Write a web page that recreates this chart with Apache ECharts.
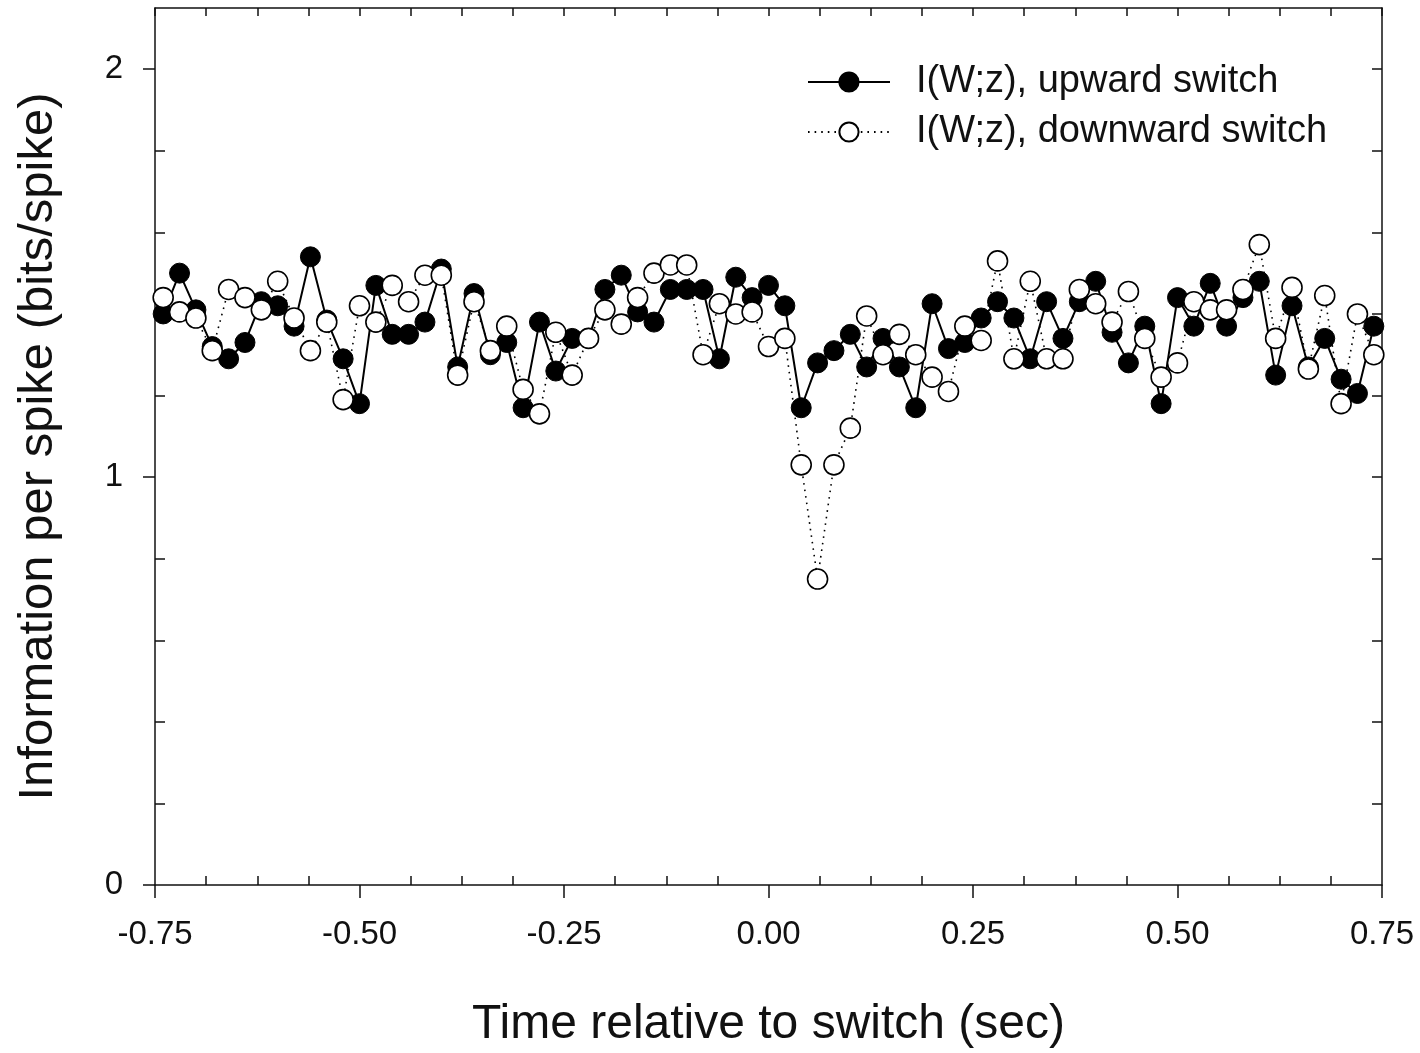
<!DOCTYPE html>
<html>
<head>
<meta charset="utf-8">
<script src="https://cdn.jsdelivr.net/npm/echarts@6/dist/echarts.min.js"></script>
<style>
  html, body { margin: 0; padding: 0; background: #fff; }
  #chart { width: 1420px; height: 1053px; }
</style>
</head>
<body>
<div id="chart"></div>
<script>
const times = [
  -0.74, -0.72, -0.70, -0.68, -0.66, -0.64, -0.62, -0.60, -0.58, -0.56,
  -0.54, -0.52, -0.50, -0.48, -0.46, -0.44, -0.42, -0.40, -0.38, -0.36,
  -0.34, -0.32, -0.30, -0.28, -0.26, -0.24, -0.22, -0.20, -0.18, -0.16,
  -0.14, -0.12, -0.10, -0.08, -0.06, -0.04, -0.02, 0.00, 0.02, 0.04,
  0.06, 0.08, 0.10, 0.12, 0.14, 0.16, 0.18, 0.20, 0.22, 0.24,
  0.26, 0.28, 0.30, 0.32, 0.34, 0.36, 0.38, 0.40, 0.42, 0.44,
  0.46, 0.48, 0.50, 0.52, 0.54, 0.56, 0.58, 0.60, 0.62, 0.64,
  0.66, 0.68, 0.70, 0.72, 0.74
];

const upward = [
  1.40, 1.50, 1.41, 1.32, 1.29, 1.33, 1.43, 1.42, 1.37, 1.54,
  1.385, 1.29, 1.18, 1.47, 1.35, 1.35, 1.38, 1.51, 1.27, 1.45,
  1.30, 1.33, 1.17, 1.38, 1.26, 1.34, 1.34, 1.46, 1.495, 1.405,
  1.38, 1.46, 1.46, 1.46, 1.29, 1.49, 1.44, 1.47, 1.42, 1.17,
  1.28, 1.31, 1.35, 1.27, 1.34, 1.27, 1.17, 1.425, 1.315, 1.33,
  1.39, 1.43, 1.39, 1.29, 1.43, 1.34, 1.43, 1.48, 1.355, 1.28,
  1.37, 1.18, 1.44, 1.37, 1.475, 1.37, 1.44, 1.48, 1.25, 1.42,
  1.27, 1.34, 1.24, 1.205, 1.37
];

const downward = [
  1.44, 1.405, 1.39, 1.31, 1.46, 1.44, 1.41, 1.48, 1.39, 1.31,
  1.38, 1.19, 1.42, 1.38, 1.47, 1.43, 1.495, 1.495, 1.25, 1.43,
  1.31, 1.37, 1.215, 1.155, 1.355, 1.25, 1.34, 1.41, 1.375, 1.44,
  1.50, 1.52, 1.52, 1.30, 1.425, 1.40, 1.405, 1.32, 1.34, 1.03,
  0.75, 1.03, 1.12, 1.395, 1.30, 1.35, 1.30, 1.245, 1.21, 1.37,
  1.335, 1.53, 1.29, 1.48, 1.29, 1.29, 1.46, 1.425, 1.38, 1.455,
  1.34, 1.245, 1.28, 1.43, 1.41, 1.41, 1.46, 1.57, 1.34, 1.465,
  1.265, 1.445, 1.18, 1.40, 1.30
];

const xMajorTicks = [-0.75, -0.5, -0.25, 0, 0.25, 0.5, 0.75];
const xMinorTicks = [
  -0.6875, -0.625, -0.5625, -0.4375, -0.375, -0.3125, -0.1875, -0.125, -0.0625,
  0.0625, 0.125, 0.1875, 0.3125, 0.375, 0.4375, 0.5625, 0.625, 0.6875
];
const xTopTicks = [
  -0.75, -0.6875, -0.625, -0.5625, -0.5, -0.4375, -0.375, -0.3125, -0.25, -0.1875, -0.125, -0.0625,
  0, 0.0625, 0.125, 0.1875, 0.25, 0.3125, 0.375, 0.4375, 0.5, 0.5625, 0.625, 0.6875, 0.75
];
const yMajorTicks = [0, 1, 2];
const yMinorTicks = [0.2, 0.4, 0.6, 0.8, 1.2, 1.4, 1.6, 1.8];
const yRightTicks = [0.2, 0.4, 0.6, 0.8, 1.0, 1.2, 1.4, 1.6, 1.8, 2.0];

const FONT = '"Liberation Sans", Arial, Helvetica, sans-serif';
const INK = '#111';

const pairs = (values) => values.map((v, i) => [times[i], v]);

const hiddenAxisParts = {
  axisLabel: { show: false },
  splitLine: { show: false }
};

const xBase = { type: 'value', min: -0.75, max: 0.75, gridIndex: 0 };
const yBase = { type: 'value', min: 0, max: 2.15, gridIndex: 0 };

const option = {
  animation: false,
  backgroundColor: '#fff',
  textStyle: { fontFamily: FONT },
  grid: { left: 155, right: 38, top: 8, bottom: 168, outerBoundsMode: 'none' },
  legend: {
    orient: 'vertical',
    left: 807,
    top: 63,
    padding: 0,
    itemWidth: 82,
    itemHeight: 24,
    itemGap: 12,
    textStyle: { fontSize: 38, color: INK, fontFamily: FONT, padding: [0, 0, 0, 21] },
    data: ['I(W;z), upward switch', 'I(W;z), downward switch']
  },
  xAxis: [
    {
      ...xBase,
      position: 'bottom',
      name: 'Time relative to switch (sec)',
      nameLocation: 'middle',
      nameGap: 116,
      nameTextStyle: { fontSize: 48, color: INK, fontFamily: FONT },
      axisLine: { show: true, onZero: false, lineStyle: { color: INK, width: 1.5 } },
      axisTick: { show: true, inside: false, length: 13, customValues: xMajorTicks, lineStyle: { color: INK, width: 1.5 } },
      axisLabel: {
        show: true, margin: 33, fontSize: 33, color: INK, fontFamily: FONT,
        customValues: xMajorTicks,
        formatter: (v) => v.toFixed(2)
      },
      splitLine: { show: false }
    },
    {
      ...xBase,
      position: 'bottom',
      axisLine: { show: false, onZero: false },
      axisTick: { show: true, inside: true, length: 9, customValues: xMinorTicks, lineStyle: { color: INK, width: 1.5 } },
      ...hiddenAxisParts
    },
    {
      ...xBase,
      position: 'top',
      axisLine: { show: true, onZero: false, lineStyle: { color: INK, width: 1.5 } },
      axisTick: { show: true, inside: true, length: 8, customValues: xTopTicks, lineStyle: { color: INK, width: 1.5 } },
      ...hiddenAxisParts
    }
  ],
  yAxis: [
    {
      ...yBase,
      position: 'left',
      name: 'Information per spike (bits/spike)',
      nameLocation: 'middle',
      nameGap: 92,
      nameTextStyle: { fontSize: 49, color: INK, fontFamily: FONT },
      axisLine: { show: true, onZero: false, lineStyle: { color: INK, width: 1.5 } },
      axisTick: { show: true, inside: false, length: 12, customValues: yMajorTicks, lineStyle: { color: INK, width: 1.5 } },
      axisLabel: {
        show: true, margin: 32, fontSize: 33, color: INK, fontFamily: FONT,
        customValues: yMajorTicks,
        formatter: (v) => String(v)
      },
      splitLine: { show: false }
    },
    {
      ...yBase,
      position: 'left',
      axisLine: { show: false, onZero: false },
      axisTick: { show: true, inside: true, length: 10, customValues: yMinorTicks, lineStyle: { color: INK, width: 1.5 } },
      ...hiddenAxisParts
    },
    {
      ...yBase,
      position: 'right',
      axisLine: { show: true, onZero: false, lineStyle: { color: INK, width: 1.5 } },
      axisTick: { show: true, inside: true, length: 10, customValues: yRightTicks, lineStyle: { color: INK, width: 1.5 } },
      ...hiddenAxisParts
    }
  ],
  series: [
    {
      name: 'I(W;z), upward switch',
      type: 'line',
      xAxisIndex: 0,
      yAxisIndex: 0,
      data: pairs(upward),
      symbol: 'circle',
      symbolSize: 20,
      showAllSymbol: true,
      lineStyle: { color: '#000', width: 2 },
      itemStyle: { color: '#000', borderColor: '#000', borderWidth: 1 }
    },
    {
      name: 'I(W;z), downward switch',
      type: 'line',
      xAxisIndex: 0,
      yAxisIndex: 0,
      data: pairs(downward),
      symbol: 'circle',
      symbolSize: 20,
      showAllSymbol: true,
      lineStyle: { color: '#000', width: 1.6, type: [1.6, 5] },
      itemStyle: { color: '#fff', borderColor: '#000', borderWidth: 1.6 }
    }
  ]
};

echarts.init(document.getElementById('chart'), null, { renderer: 'canvas' }).setOption(option);
</script>
</body>
</html>
